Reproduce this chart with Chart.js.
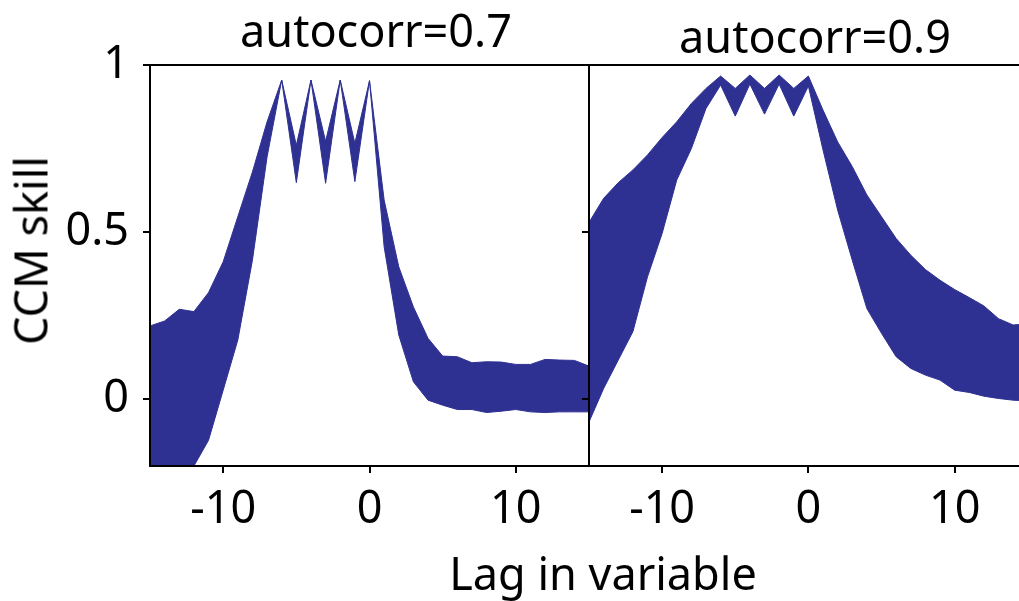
<!DOCTYPE html>
<html>
<head>
<meta charset="utf-8">
<script src="https://cdn.jsdelivr.net/npm/chart.js"></script>
<style>
  body { margin: 0; background: #fff; }
  #wrap { position: relative; width: 1019px; height: 601px; overflow: hidden; font-family: 'Noto Sans', sans-serif; color: #000; }
  canvas { position: absolute; top: 0; }
  .lbl { position: absolute; font-size: 45px; line-height: 45px; text-align: center; white-space: nowrap; }
</style>
</head>
<body>
<div id="wrap">
  <canvas id="left" width="600" height="601" style="left:0"></canvas>
  <canvas id="right" width="449" height="601" style="left:570px"></canvas>
  <div class="lbl" style="left:176px; top:7px; width:400px;">autocorr=0.7</div>
  <div class="lbl" style="left:615px; top:13px; width:400px;">autocorr=0.9</div>
  <div class="lbl" style="left:403px; top:550px; width:400px;">Lag in variable</div>
  <div class="lbl" style="left:-120px; top:228px; width:300px; height:45px; transform:rotate(-90deg);">CCM skill</div>
</div>
<script>
// lags shown on the x axis
const lags = [-15, -14, -13, -12, -11, -10, -9, -8, -7, -6, -5, -4, -3, -2, -1, 0,
              1, 2, 3, 4, 5, 6, 7, 8, 9, 10, 11, 12, 13, 14, 15];

// autocorr = 0.7 band
const upper07 = [0.219, 0.234, 0.269, 0.262, 0.319, 0.411, 0.546, 0.68, 0.83, 0.955, 0.76, 0.955, 0.772, 0.955, 0.766, 0.953,
                 0.596, 0.396, 0.276, 0.182, 0.129, 0.127, 0.109, 0.112, 0.111, 0.104, 0.104, 0.119, 0.117, 0.116, 0.099];
const lower07 = [-0.32, -0.29, -0.25, -0.2, -0.123, 0.027, 0.177, 0.416, 0.725, 0.955, 0.648, 0.955, 0.646, 0.955, 0.651, 0.953,
                 0.456, 0.192, 0.052, -0.003, -0.018, -0.031, -0.031, -0.04, -0.036, -0.031, -0.038, -0.04, -0.038, -0.038, -0.038];

// autocorr = 0.9 band
const upper09 = [0.529, 0.601, 0.648, 0.686, 0.731, 0.783, 0.83, 0.885, 0.93, 0.967, 0.93, 0.97, 0.93, 0.97, 0.93, 0.967,
                 0.865, 0.77, 0.696, 0.611, 0.546, 0.481, 0.431, 0.388, 0.356, 0.328, 0.304, 0.279, 0.241, 0.222, 0.225];
const lower09 = [-0.068, 0.032, 0.117, 0.202, 0.366, 0.496, 0.656, 0.75, 0.87, 0.94, 0.847, 0.943, 0.853, 0.943, 0.847, 0.937,
                 0.746, 0.566, 0.416, 0.271, 0.197, 0.127, 0.092, 0.072, 0.057, 0.027, 0.02, 0.009, 0.002, -0.003, -0.005];

const xTicks = [-10, 0, 10];
const yTicks = [0, 0.5, 1];

const bandColor = '#2e3192';
Chart.defaults.font.family = "'Noto Sans', sans-serif";
Chart.defaults.color = '#000';

function pts(ys) {
    return lags.map((x, i) => ({ x: x, y: ys[i] }));
}

// top edge of the box
const topLine = {
    id: 'topLine',
    afterDraw(chart) {
        const a = chart.chartArea;
        const ctx = chart.ctx;
        ctx.save();
        ctx.strokeStyle = '#000';
        ctx.lineWidth = 2;
        ctx.beginPath();
        ctx.moveTo(a.left - 1, a.top);
        ctx.lineTo(a.right, a.top);
        ctx.stroke();
        ctx.restore();
    }
};

function makePanel(id, up, lo, xMax, yWidth, showY, padRight) {
    return new Chart(document.getElementById(id), {
        type: 'line',
        data: {
            datasets: [{
                data: pts(up),
                borderColor: bandColor,
                backgroundColor: bandColor,
                borderWidth: 1,
                pointRadius: 0,
                tension: 0,
                fill: '+1'
            }, {
                data: pts(lo),
                borderColor: bandColor,
                borderWidth: 1,
                pointRadius: 0,
                tension: 0,
                fill: false
            }]
        },
        options: {
            responsive: false,
            animation: false,
            devicePixelRatio: 1,
            layout: { padding: { top: 65, right: padRight, left: 0, bottom: 0 } },
            plugins: { legend: { display: false }, tooltip: { enabled: false } },
            scales: {
                x: {
                    type: 'linear',
                    min: -15,
                    max: xMax,
                    afterBuildTicks: s => { s.ticks = xTicks.map(v => ({ value: v })); },
                    afterFit: s => { s.height = 135; },
                    grid: { drawOnChartArea: false, drawTicks: true, tickLength: 7, color: '#000', lineWidth: 2 },
                    border: { display: true, color: '#000', width: 2, z: 1 },
                    ticks: { font: { size: 45 }, padding: 10, maxRotation: 0, callback: v => String(v) }
                },
                y: {
                    type: 'linear',
                    min: -0.2,
                    max: 1,
                    afterBuildTicks: s => { s.ticks = yTicks.map(v => ({ value: v })); },
                    afterFit: s => { s.width = yWidth; },
                    grid: { drawOnChartArea: false, drawTicks: true, tickLength: 7, color: '#000', lineWidth: 2 },
                    border: { display: true, color: '#000', width: 2, z: 1 },
                    ticks: { display: showY, font: { size: 45 }, padding: 14, callback: v => String(v) }
                }
            }
        },
        plugins: [topLine]
    });
}

makePanel('left', upper07, lower07, 15, 150, true, 11);
makePanel('right', upper09, lower09, 14.4, 19, false, 0);
</script>
</body>
</html>
